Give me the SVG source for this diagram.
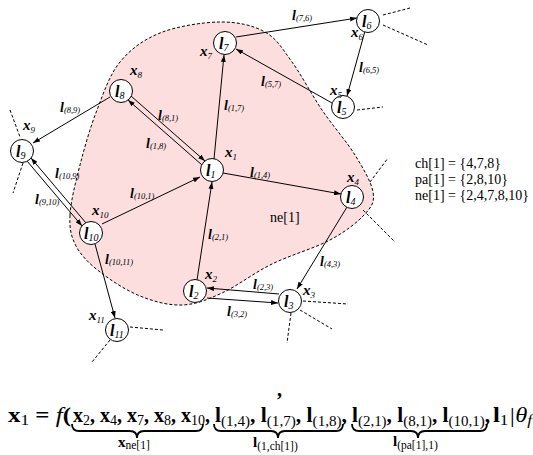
<svg xmlns="http://www.w3.org/2000/svg" width="533" height="455" viewBox="0 0 533 455">
<style>
text{font-family:"Liberation Serif","Times New Roman",serif;fill:#000}
.nl{font-style:italic;font-weight:bold;font-size:16px}
.ns{font-style:italic;font-weight:normal;font-size:10px}
.el{font-style:italic;font-weight:bold;font-size:14px}
.es{font-style:italic;font-weight:normal;font-size:8.5px}
.xl{font-style:italic;font-weight:bold;font-size:15px}
.xs{font-style:italic;font-weight:normal;font-size:9px}
.tx{font-size:14px}
.eq{font-weight:bold;font-size:20px}
.eqs{font-weight:normal;font-size:14px}
.it{font-style:italic;font-weight:normal}
.bl{font-weight:bold;font-size:15px}
.bls{font-weight:normal;font-size:11.5px}
.node circle{fill:#fff;stroke:#000;stroke-width:1}
.edge{stroke:#000;stroke-width:1;fill:none;marker-end:url(#ah)}
.stub{stroke:#000;stroke-width:1;stroke-dasharray:3 2;fill:none}
.brace{stroke:#000;stroke-width:1.8;fill:none}
</style>
<defs>
<marker id="ah" markerUnits="userSpaceOnUse" markerWidth="7" markerHeight="5" refX="7" refY="2.5" orient="auto">
<path d="M0,0 L7,2.5 L0,5 z" fill="#000"/>
</marker>
</defs>

<g id="region">
<path d="M70,215 C70.7,201.5 75.5,182.5 80,165 C84.5,147.5 90.3,127.2 97,110 C103.7,92.8 109.5,74.8 120,62 C130.5,49.2 143.3,39.7 160,33 C176.7,26.3 202.5,22.2 220,22 C237.5,21.8 253,25.3 265,32 C277,38.7 282.5,49 292,62 C301.5,75 311.5,94.5 322,110 C332.5,125.5 346.5,141.3 355,155 C363.5,168.7 371.3,182.2 373,192 C374.7,201.8 372.2,206 365,214 C357.8,222 345.5,231.7 330,240 C314.5,248.3 290,255.2 272,264 C254,272.8 237,286.2 222,293 C207,299.8 195.7,304.5 182,305 C168.3,305.5 153.7,301.5 140,296 C126.3,290.5 110.7,280.3 100,272 C89.3,263.7 81,255.5 76,246 C71,236.5 69.3,228.5 70,215 Z" fill="#fddede" stroke="#000" stroke-width="1" stroke-dasharray="3 2"/>
<text class="tx" x="270" y="222" font-size="13">ne[1]</text>
</g>

<g id="stubs">
<path class="stub" d="M383,15 L410,8 M383,25 L428,45 M357,110 L383,107 M370,182 L388,158 M363,210 L395,242 M303,301 L348,304 M300,310 L332,329 M291,313 L287,343 M130,327 L163,330 M110,340 L92,362 M10,110 L20,137 M23,163 L13,193"/>
</g>

<g id="connectors">
<path class="edge" d="M236,37 L357,18"/>
<path class="edge" d="M365,31 L347,96"/>
<path class="edge" d="M332,103 L236,49"/>
<path class="edge" d="M214,159 L224,55"/>
<path class="edge" d="M131,96 L205,161"/>
<path class="edge" d="M202,165 L128,100"/>
<path class="edge" d="M110,97 L33,143"/>
<path class="edge" d="M86,223 L31,158"/>
<path class="edge" d="M27,161 L82,226"/>
<path class="edge" d="M102,224 L200,177"/>
<path class="edge" d="M223,173 L341,194"/>
<path class="edge" d="M197,280 L212,182"/>
<path class="edge" d="M347,207 L297,289"/>
<path class="edge" d="M279,294 L207,288"/>
<path class="edge" d="M207,298 L278,303"/>
<path class="edge" d="M95,244 L115,318"/>
<text class="el" x="292" y="20">l<tspan class="es" dy="1">(7,6)</tspan></text>
<text class="el" x="359" y="72">l<tspan class="es" dy="1">(6,5)</tspan></text>
<text class="el" x="261" y="86">l<tspan class="es" dy="1">(5,7)</tspan></text>
<text class="el" x="224" y="110">l<tspan class="es" dy="1">(1,7)</tspan></text>
<text class="el" x="158" y="120">l<tspan class="es" dy="1">(8,1)</tspan></text>
<text class="el" x="146" y="148">l<tspan class="es" dy="1">(1,8)</tspan></text>
<text class="el" x="60" y="112">l<tspan class="es" dy="1">(8,9)</tspan></text>
<text class="el" x="250" y="177">l<tspan class="es" dy="1">(1,4)</tspan></text>
<text class="el" x="130" y="198">l<tspan class="es" dy="1">(10,1)</tspan></text>
<text class="el" x="55" y="178">l<tspan class="es" dy="1">(10,9)</tspan></text>
<text class="el" x="35" y="204">l<tspan class="es" dy="1">(9,10)</tspan></text>
<text class="el" x="105" y="264">l<tspan class="es" dy="1">(10,11)</tspan></text>
<text class="el" x="208" y="239">l<tspan class="es" dy="1">(2,1)</tspan></text>
<text class="el" x="253" y="289">l<tspan class="es" dy="1">(2,3)</tspan></text>
<text class="el" x="227" y="316">l<tspan class="es" dy="1">(3,2)</tspan></text>
<text class="el" x="320" y="266">l<tspan class="es" dy="1">(4,3)</tspan></text>
</g>

<g id="n1" class="node"><circle cx="212" cy="170" r="11.5"/><text class="nl" x="206" y="176">l<tspan class="ns" dy="2">1</tspan></text><text class="xl" x="225" y="157">x<tspan class="xs" dy="3">1</tspan></text></g>
<g id="n2" class="node"><circle cx="195" cy="291" r="11.5"/><text class="nl" x="189" y="297">l<tspan class="ns" dy="2">2</tspan></text><text class="xl" x="205" y="279">x<tspan class="xs" dy="3">2</tspan></text></g>
<g id="n3" class="node"><circle cx="290" cy="301" r="11.5"/><text class="nl" x="284" y="307">l<tspan class="ns" dy="2">3</tspan></text><text class="xl" x="303" y="295">x<tspan class="xs" dy="3">3</tspan></text></g>
<g id="n4" class="node"><circle cx="352" cy="197" r="11.5"/><text class="nl" x="346" y="203">l<tspan class="ns" dy="2">4</tspan></text><text class="xl" x="347" y="182">x<tspan class="xs" dy="3">4</tspan></text></g>
<g id="n5" class="node"><circle cx="343" cy="107" r="11.5"/><text class="nl" x="337" y="113">l<tspan class="ns" dy="2">5</tspan></text><text class="xl" x="330" y="95">x<tspan class="xs" dy="3">5</tspan></text></g>
<g id="n6" class="node"><circle cx="368" cy="21" r="11.5"/><text class="nl" x="362" y="27">l<tspan class="ns" dy="2">6</tspan></text><text class="xl" x="351" y="37">x<tspan class="xs" dy="3">6</tspan></text></g>
<g id="n7" class="node"><circle cx="225" cy="43" r="11.5"/><text class="nl" x="219" y="49">l<tspan class="ns" dy="2">7</tspan></text><text class="xl" x="200" y="56">x<tspan class="xs" dy="3">7</tspan></text></g>
<g id="n8" class="node"><circle cx="121" cy="91" r="11.5"/><text class="nl" x="115" y="97">l<tspan class="ns" dy="2">8</tspan></text><text class="xl" x="130" y="75">x<tspan class="xs" dy="3">8</tspan></text></g>
<g id="n9" class="node"><circle cx="22" cy="151" r="11.5"/><text class="nl" x="16" y="157">l<tspan class="ns" dy="2">9</tspan></text><text class="xl" x="23" y="130">x<tspan class="xs" dy="3">9</tspan></text></g>
<g id="n10" class="node"><circle cx="91" cy="233" r="11.5"/><text class="nl" x="84" y="239">l<tspan class="ns" dy="2">10</tspan></text><text class="xl" x="92" y="215">x<tspan class="xs" dy="3">10</tspan></text></g>
<g id="n11" class="node"><circle cx="117" cy="330" r="11.5"/><text class="nl" x="110" y="336">l<tspan class="ns" dy="2">11</tspan></text><text class="xl" x="89" y="320">x<tspan class="xs" dy="3">11</tspan></text></g>

<g id="sets">
<text class="tx" x="415" y="168">ch[1] = {4,7,8}</text>
<text class="tx" x="415" y="184">pa[1] = {2,8,10}</text>
<text class="tx" x="415" y="200">ne[1] = {2,4,7,8,10}</text>
</g>

<g id="equation">
<text class="eq" x="277" y="396">,</text>
<text class="eq" x="8" y="422" textLength="63" lengthAdjust="spacingAndGlyphs">x<tspan class="eqs" dy="3">1</tspan><tspan dy="-3"> = </tspan><tspan class="it">f</tspan>(</text>
<text class="eq" x="73" y="422" textLength="137" lengthAdjust="spacingAndGlyphs">x<tspan class="eqs" dy="3">2</tspan><tspan dy="-3">, x</tspan><tspan class="eqs" dy="3">4</tspan><tspan dy="-3">, x</tspan><tspan class="eqs" dy="3">7</tspan><tspan dy="-3">, x</tspan><tspan class="eqs" dy="3">8</tspan><tspan dy="-3">, x</tspan><tspan class="eqs" dy="3">10</tspan><tspan dy="-3">,</tspan></text>
<text class="eq" x="215" y="422" textLength="132" lengthAdjust="spacingAndGlyphs">l<tspan class="eqs" dy="4">(1,4)</tspan><tspan dy="-4">, l</tspan><tspan class="eqs" dy="4">(1,7)</tspan><tspan dy="-4">, l</tspan><tspan class="eqs" dy="4">(1,8)</tspan><tspan dy="-4">,</tspan></text>
<text class="eq" x="352" y="422" textLength="138" lengthAdjust="spacingAndGlyphs">l<tspan class="eqs" dy="4">(2,1)</tspan><tspan dy="-4">, l</tspan><tspan class="eqs" dy="4">(8,1)</tspan><tspan dy="-4">, l</tspan><tspan class="eqs" dy="4">(10,1)</tspan><tspan dy="-4">,</tspan></text>
<text class="eq" x="493" y="422" textLength="39" lengthAdjust="spacingAndGlyphs">l<tspan class="eqs" dy="3">1</tspan><tspan class="it" dy="-3">|θ</tspan><tspan class="eqs it" dy="3">f</tspan></text>
<path class="brace" d="M72,424 Q72,431 79,431 L130,431 Q137,431 137,438 Q137,431 144,431 L196,431 Q203,431 203,424"/>
<path class="brace" d="M214,424 Q214,431 221,431 L271,431 Q278,431 278,438 Q278,431 285,431 L336,431 Q343,431 343,424"/>
<path class="brace" d="M352,424 Q352,431 359,431 L411,431 Q418,431 418,438 Q418,431 425,431 L480,431 Q487,431 487,424"/>
<text class="bl" x="118" y="447">x<tspan class="bls" dy="2">ne[1]</tspan></text>
<text class="bl" x="253" y="447">l<tspan class="bls" dy="3">(1,ch[1])</tspan></text>
<text class="bl" x="393" y="446">l<tspan class="bls" dy="3">(pa[1],1)</tspan></text>
</g>
</svg>
